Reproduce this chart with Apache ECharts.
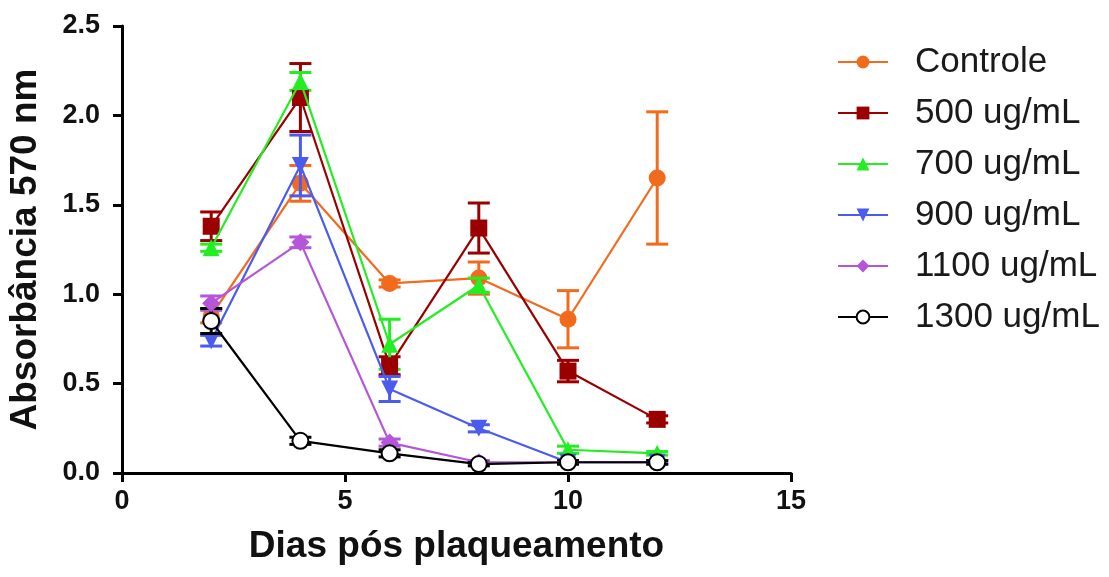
<!DOCTYPE html>
<html>
<head>
<meta charset="utf-8">
<script src="https://cdn.jsdelivr.net/npm/echarts@6/dist/echarts.min.js"></script>
<style>html,body{margin:0;padding:0;background:#fff}#c{width:1109px;height:577px}</style>
</head>
<body>
<div id="c"></div>
<script>
const days = [2, 4, 6, 8, 10, 12];
const seriesNames = ['Controle', '500 ug/mL', '700 ug/mL', '900 ug/mL', '1100 ug/mL', '1300 ug/mL'];
const controle = [0.88, 1.62, 1.06, 1.09, 0.86, 1.65];
const ug500 = [1.38, 2.10, 0.60, 1.37, 0.57, 0.30];
const ug700 = [1.26, 2.19, 0.72, 1.05, 0.13, 0.11];
const ug900 = [0.74, 1.72, 0.47, 0.25, 0.06, 0.06];
const ug1100 = [0.95, 1.29, 0.17, 0.06, 0.06, 0.06];
const ug1300 = [0.85, 0.18, 0.11, 0.05, 0.06, 0.06];
const errControle = [0.04, 0.10, 0.02, 0.09, 0.16, 0.37];
const err500 = [0.08, 0.19, 0.05, 0.14, 0.06, 0.02];
const err700 = [0.02, 0.05, 0.14, 0.04, 0.02, 0.01];
const err900 = [0.03, 0.17, 0.07, 0.02, 0.01, 0.01];
const err1100 = [0.04, 0.03, 0.02, 0.01, 0.01, 0.01];
const err1300 = [0.07, 0.02, 0.02, 0.01, 0.01, 0.01];
const xTicks = [0, 5, 10, 15];
const yTicks = [0, 0.5, 1.0, 1.5, 2.0, 2.5];

const values = [controle, ug500, ug700, ug900, ug1100, ug1300];
const errors = [errControle, err500, err700, err900, err1100, err1300];
const colors = ['#F26B1D', '#9B0000', '#22EE22', '#4B5BEE', '#B455DA', '#000000'];
const symbols = ['circle', 'rect', 'triangle', 'path://M0,0 L10,0 L5,10 Z', 'diamond', 'emptyCircle'];
const symSizes = [17, 17, 17, 17, 18, 16];

const series = [];
values.forEach((vals, i) => {
  series.push({
    type: 'custom',
    name: seriesNames[i] + ' err',
    data: days.map((d, k) => [d, vals[k] - errors[i][k], vals[k] + errors[i][k]]),
    z: 2 + i,
    silent: true,
    renderItem: (params, api) => {
      const lo = api.coord([api.value(0), api.value(1)]);
      const hi = api.coord([api.value(0), api.value(2)]);
      const hw = 11;
      const st = { stroke: colors[i], lineWidth: 3 };
      return {
        type: 'group',
        children: [
          { type: 'line', shape: { x1: lo[0], y1: lo[1], x2: hi[0], y2: hi[1] }, style: st },
          { type: 'line', shape: { x1: lo[0] - hw, y1: lo[1], x2: lo[0] + hw, y2: lo[1] }, style: st },
          { type: 'line', shape: { x1: hi[0] - hw, y1: hi[1], x2: hi[0] + hw, y2: hi[1] }, style: st }
        ]
      };
    }
  });
  series.push({
    type: 'line',
    name: seriesNames[i],
    data: days.map((d, k) => [d, vals[k]]),
    z: 3 + i,
    symbol: symbols[i],
    symbolSize: symSizes[i],
    color: colors[i],
    showAllSymbol: true,
    lineStyle: { width: 2.2, color: colors[i] },
    itemStyle: i === 5 ? { color: '#000', borderColor: '#000', borderWidth: 3.5 } : { color: colors[i] },
    emphasis: { disabled: true },
    animation: false
  });
});

const chart = echarts.init(document.getElementById('c'), null, { renderer: 'canvas' });
chart.setOption({
  animation: false,
  backgroundColor: '#fff',
  grid: { left: 122, top: 26, right: 318, bottom: 104, containLabel: false, outerBoundsMode: 'none' },
  legend: {
    data: seriesNames,
    orient: 'vertical',
    left: 832,
    top: 39,
    itemWidth: 50,
    itemHeight: 16,
    itemGap: 15,
    textStyle: { fontFamily: 'Liberation Sans, Arial, sans-serif', fontSize: 35, color: '#1a1a1a', lineHeight: 36, padding: [0, 0, 0, 22] },
    selectedMode: false
  },
  xAxis: {
    type: 'value', min: xTicks[0], max: xTicks[xTicks.length - 1], interval: 5,
    name: 'Dias pós plaqueamento', nameLocation: 'middle', nameGap: 55,
    nameTextStyle: { fontFamily: 'Liberation Sans, Arial, sans-serif', fontSize: 37, fontWeight: 'bold', color: '#111' },
    axisLine: { show: true, onZero: false, lineStyle: { color: '#000', width: 3 } },
    axisTick: { show: true, length: 9, lineStyle: { color: '#000', width: 3 } },
    axisLabel: { fontFamily: 'Liberation Sans, Arial, sans-serif', fontSize: 27, fontWeight: 'bold', color: '#111', margin: 15 },
    splitLine: { show: false }
  },
  yAxis: {
    type: 'value', min: yTicks[0], max: yTicks[yTicks.length - 1], interval: 0.5,
    name: 'Absorbância 570 nm', nameLocation: 'middle', nameGap: 78,
    nameTextStyle: { fontFamily: 'Liberation Sans, Arial, sans-serif', fontSize: 37, fontWeight: 'bold', color: '#111' },
    axisLine: { show: true, lineStyle: { color: '#000', width: 3 } },
    axisTick: { show: true, length: 9, lineStyle: { color: '#000', width: 3 } },
    axisLabel: { fontFamily: 'Liberation Sans, Arial, sans-serif', fontSize: 27, fontWeight: 'bold', color: '#111', margin: 22, formatter: v => v.toFixed(1) },
    splitLine: { show: false }
  },
  series: series
});
</script>
</body>
</html>
